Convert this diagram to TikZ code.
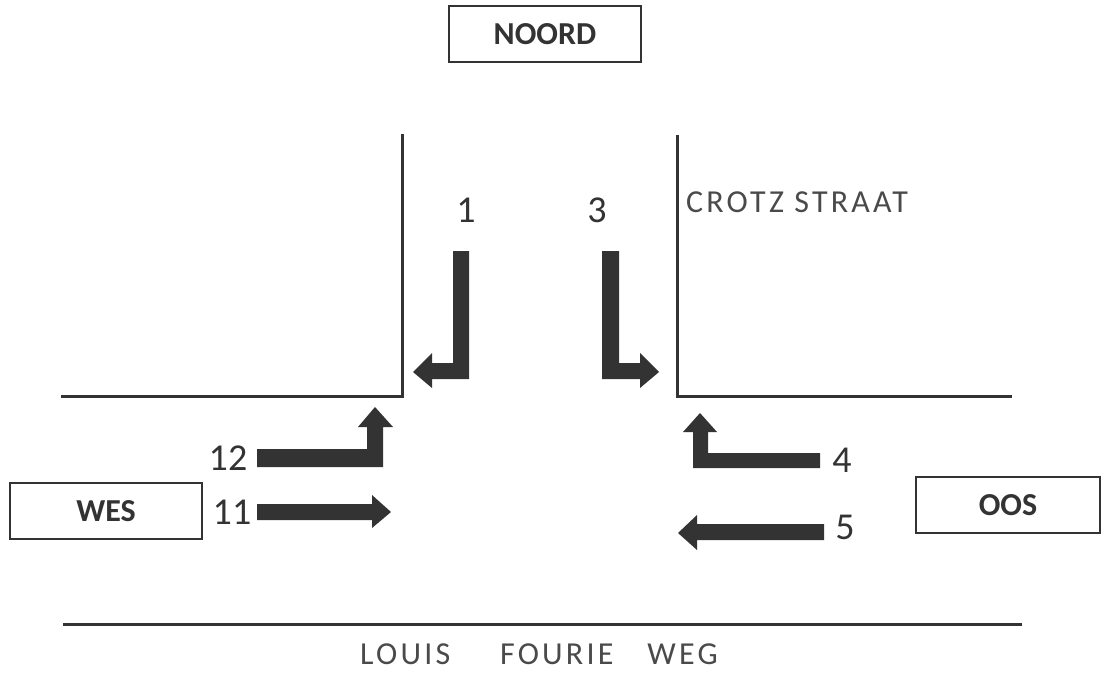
\documentclass[tikz,border=0pt]{standalone}
\usepackage{fontspec}
\setmainfont{Carlito}
\newfontfamily\hand[LetterSpace=10]{Carlito}
\definecolor{ink}{HTML}{333333}
\definecolor{pen}{HTML}{4A4A4A}
\begin{document}
\begin{tikzpicture}[x=1pt,y=-1pt,
  road/.style={draw=ink,line width=3pt,line cap=butt,line join=miter},
  dirbox/.style={draw=ink,line width=2pt,minimum width=#1,minimum height=56pt,inner sep=0pt,font=\fontsize{32}{34}\selectfont\bfseries,text=ink},
  num/.style={anchor=base,font=\fontsize{38}{40}\selectfont,text=ink,inner sep=0pt},
  turn/.style={fill=ink,draw=none},
  handtext/.style={anchor=base west,inner sep=0pt,text=pen,font=\fontsize{32}{34}\selectfont\hand}]
\useasboundingbox (0,0) rectangle (1105,672);
\fill[white] (0,0) rectangle (1105,672);
% direction boxes
\node[dirbox=192pt] (noord) at (545,34) {NOORD};
\node[dirbox=192pt] (wes) at (106,511) {WES};
\node[dirbox=184pt] (oos) at (1008,505) {OOS};
% roads
\draw[road] (402,134) -- (402,396) -- (61,396);
\draw[road] (677,135) -- (677,396) -- (1012,396);
\draw[road] (63,624) -- (1022,624);
% street names
\node[handtext] (crotz) at (686,212) {CROTZ STRAAT};
\node[handtext] (louis) at (360,664) {LOUIS\hspace{50pt}FOURIE\hspace{34pt}WEG};
% lane numbers
\node[num] (n1) at (466,222) {1};
\node[num] (n3) at (597,222) {3};
\node[num] (n12) at (228,470) {12};
\node[num] (n11) at (232,524) {11};
\node[num] (n4) at (842,472) {4};
\node[num] (n5) at (845,539) {5};
% arrows
\fill[turn] (453,251) -- (469,251) -- (469,379) -- (432,379) -- (432,388) -- (413,372) -- (432,353) -- (432,363) -- (453,363) -- cycle;
\fill[turn] (602,251) -- (619,251) -- (619,363) -- (640,363) -- (640,353) -- (659,372) -- (640,388) -- (640,379) -- (602,379) -- cycle;
\fill[turn] (257,449) -- (367,449) -- (367,427) -- (358,427) -- (375,407) -- (393,427) -- (383,427) -- (383,467) -- (257,467) -- cycle;
\fill[turn] (257,504) -- (372,504) -- (372,495) -- (391,512) -- (372,528) -- (372,520) -- (257,520) -- cycle;
\fill[turn] (820,453) -- (708,453) -- (708,432) -- (717,432) -- (700,413) -- (683,432) -- (693,432) -- (693,468) -- (820,468) -- cycle;
\fill[turn] (824,524) -- (697,524) -- (697,515) -- (678,533) -- (697,550) -- (697,540) -- (824,540) -- cycle;
\end{tikzpicture}
\end{document}
